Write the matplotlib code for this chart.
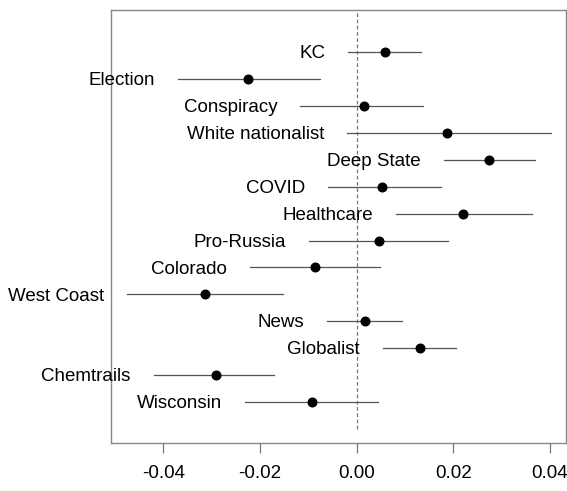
import matplotlib
matplotlib.use("Agg")
import matplotlib.pyplot as plt

# topics from top to bottom, point estimates and interval ends
topics = ["KC", "Election", "Conspiracy", "White nationalist", "Deep State", "COVID",
          "Healthcare", "Pro-Russia", "Colorado", "West Coast", "News", "Globalist",
          "Chemtrails", "Wisconsin"]
est = [0.0059, -0.0225, 0.0016, 0.0187, 0.0274, 0.0052, 0.0220, 0.0046, -0.0086,
       -0.0314, 0.0017, 0.0131, -0.0291, -0.0092]
lower = [-0.0018, -0.0369, -0.0117, -0.0020, 0.0180, -0.0059, 0.0081, -0.0099, -0.0221,
         -0.0474, -0.0061, 0.0054, -0.0420, -0.0230]
upper = [0.0133, -0.0076, 0.0137, 0.0402, 0.0369, 0.0174, 0.0363, 0.0189, 0.0048,
         -0.0153, 0.0094, 0.0205, -0.0170, 0.0045]
xticks = [-0.04, -0.02, 0.00, 0.02, 0.04]

plt.rcParams['font.family'] = ['Liberation Sans', 'DejaVu Sans']

fig = plt.figure(figsize=(5.67, 4.91), dpi=100)
ax = fig.add_axes([111/567, 1 - 443/491, 455/567, 433/491])

n = len(topics)
ys = [n - i for i in range(n)]

ax.plot([0, 0], [0, n + 2], color='#777777', linestyle=(0, (3, 2)), linewidth=0.9, zorder=1)

for y, e, lo, hi, name in zip(ys, est, lower, upper, topics):
    ax.plot([lo, hi], [y, y], color='#555555', linewidth=0.9, zorder=2)
    ax.plot(e, y, 'o', color='black', markersize=6.2, zorder=3)
    ax.annotate(name, (lo, y), xytext=(-16.5, -1.2), textcoords='offset points',
                ha='right', va='center', fontsize=13.5, annotation_clip=False)

ax.set_xlim(-0.0508, 0.0433)
ax.set_ylim(-0.52, n + 1.56)
ax.set_yticks([])
ax.set_xticks(xticks)
ax.set_xticklabels(["%.2f" % t for t in xticks])
ax.tick_params(axis='x', direction='out', length=7.5, width=0.9, color='#777777',
               labelsize=13.5, pad=8)
for s in ax.spines.values():
    s.set_color('#888888')
    s.set_linewidth(1.0)

fig.savefig("out.png", dpi=100)
